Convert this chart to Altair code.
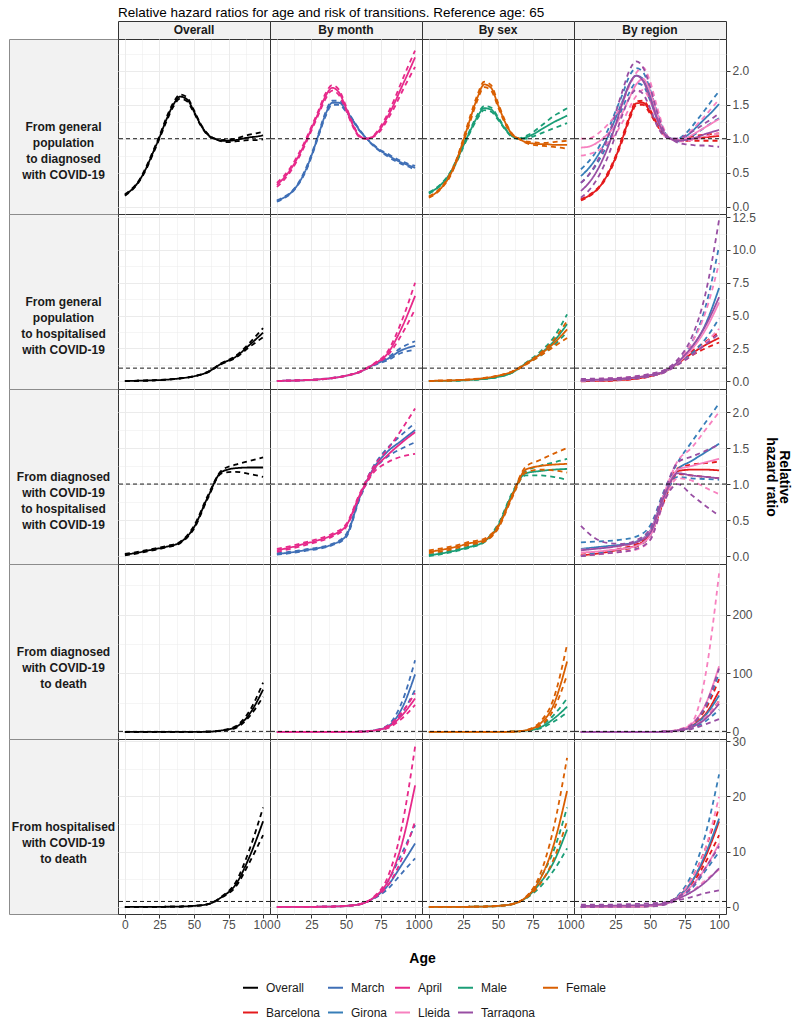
import json
import altair as alt
import pandas as pd

FONT = "Liberation Sans"

# ---------------- categories / labels ----------------
SERIES_NAMES = ["Overall", "March", "April", "Male", "Female",
                "Barcelona", "Girona", "Lleida", "Tarragona"]
SERIES_COLORS = ["#000000", "#3F6FB6", "#E7298A", "#1B9E77", "#D95F02",
                 "#E41A1C", "#377EB8", "#F781BF", "#984EA3"]
COLUMN_TITLES = ["Overall", "By month", "By sex", "By region"]
COLUMN_SERIES = [["Overall"], ["March", "April"], ["Male", "Female"],
                 ["Barcelona", "Girona", "Lleida", "Tarragona"]]
ROW_LABELS = [
    "From general\npopulation\nto diagnosed\nwith COVID-19",
    "From general\npopulation\nto hospitalised\nwith COVID-19",
    "From diagnosed\nwith COVID-19\nto hospitalised\nwith COVID-19",
    "From diagnosed\nwith COVID-19\nto death",
    "From hospitalised\nwith COVID-19\nto death",
]
TITLE = "Relative hazard ratios for age and risk of transitions. Reference age: 65"
X_TITLE = "Age"
Y_TITLE = ["Relative", "hazard ratio"]

# y tick labels per row
ROW_MAJOR = [[0, 0.5, 1, 1.5, 2], [0, 2.5, 5, 7.5, 10, 12.5], [0, 0.5, 1, 1.5, 2],
             [0, 100, 200], [0, 10, 20, 30]]
ROW_MINOR = [[0.25, 0.75, 1.25, 1.75, 2.25], [1.25, 3.75, 6.25, 8.75, 11.25],
             [0.25, 0.75, 1.25, 1.75, 2.25], [50, 150, 250], [5, 15, 25]]
ROW_FORMAT = [".1f", ".1f", ".1f", "d", "d"]
ROW_DOMAIN = [[-0.11, 2.47], [-0.59, 12.74], [-0.11, 2.32], [-12, 286], [-1.27, 30.4]]
X_MAJOR = [0, 25, 50, 75, 100]
X_MINOR = [12.5, 37.5, 62.5, 87.5]

# ---------------- data: ages ----------------
AGES_R1 = [0, 5, 10, 15, 20, 25, 30, 35, 40, 45, 50, 55, 60, 65, 70, 75, 80, 85, 90, 95, 100]
AGES = [0, 10, 20, 30, 40, 50, 60, 70, 80, 90, 100]

# ---------------- row 1: general population -> diagnosed ----------------
r1_Overall = [0.17, 0.25, 0.37, 0.55, 0.78, 1.02, 1.28, 1.50, 1.62, 1.58, 1.40, 1.20, 1.06, 1.00, 0.97, 0.97, 0.98, 1.00, 1.02, 1.03, 1.05]
r1_Overall_lo = [0.16, 0.24, 0.36, 0.53, 0.76, 1.00, 1.25, 1.47, 1.59, 1.55, 1.38, 1.19, 1.05, 1.00, 0.96, 0.95, 0.96, 0.97, 0.98, 0.98, 0.99]
r1_Overall_hi = [0.18, 0.26, 0.38, 0.57, 0.80, 1.04, 1.31, 1.53, 1.65, 1.61, 1.42, 1.21, 1.07, 1.00, 0.98, 0.99, 1.00, 1.03, 1.06, 1.08, 1.10]
r1_March = [0.08, 0.13, 0.20, 0.32, 0.50, 0.75, 1.05, 1.35, 1.53, 1.53, 1.42, 1.27, 1.12, 1.00, 0.90, 0.82, 0.76, 0.70, 0.65, 0.61, 0.57]
r1_March_lo = [0.07, 0.12, 0.19, 0.31, 0.48, 0.73, 1.03, 1.32, 1.50, 1.50, 1.40, 1.26, 1.11, 1.00, 0.89, 0.81, 0.74, 0.68, 0.63, 0.59, 0.54]
r1_March_hi = [0.09, 0.14, 0.21, 0.33, 0.52, 0.77, 1.07, 1.38, 1.56, 1.56, 1.44, 1.28, 1.13, 1.00, 0.91, 0.83, 0.78, 0.72, 0.67, 0.63, 0.60]
r1_April = [0.32, 0.42, 0.55, 0.72, 0.92, 1.15, 1.38, 1.62, 1.75, 1.68, 1.45, 1.20, 1.03, 1.00, 1.04, 1.15, 1.32, 1.52, 1.75, 1.97, 2.20]
r1_April_lo = [0.29, 0.39, 0.52, 0.69, 0.89, 1.12, 1.35, 1.58, 1.71, 1.64, 1.42, 1.18, 1.02, 1.00, 1.03, 1.12, 1.28, 1.46, 1.67, 1.87, 2.06]
r1_April_hi = [0.35, 0.45, 0.58, 0.75, 0.95, 1.18, 1.41, 1.66, 1.79, 1.72, 1.48, 1.22, 1.04, 1.00, 1.05, 1.18, 1.36, 1.58, 1.83, 2.07, 2.30]
r1_Male = [0.20, 0.26, 0.35, 0.48, 0.67, 0.90, 1.12, 1.32, 1.45, 1.43, 1.30, 1.15, 1.04, 1.00, 1.02, 1.06, 1.12, 1.18, 1.24, 1.29, 1.34]
r1_Male_lo = [0.19, 0.25, 0.34, 0.47, 0.65, 0.88, 1.10, 1.29, 1.42, 1.40, 1.28, 1.14, 1.03, 1.00, 1.00, 1.03, 1.07, 1.11, 1.15, 1.19, 1.23]
r1_Male_hi = [0.21, 0.27, 0.36, 0.49, 0.69, 0.92, 1.14, 1.35, 1.48, 1.46, 1.32, 1.16, 1.05, 1.00, 1.04, 1.09, 1.17, 1.25, 1.33, 1.39, 1.45]
r1_Female = [0.14, 0.20, 0.30, 0.45, 0.68, 0.98, 1.30, 1.60, 1.80, 1.75, 1.50, 1.25, 1.07, 1.00, 0.95, 0.93, 0.92, 0.92, 0.91, 0.91, 0.91]
r1_Female_lo = [0.13, 0.19, 0.29, 0.43, 0.66, 0.95, 1.26, 1.56, 1.76, 1.71, 1.47, 1.23, 1.06, 1.00, 0.94, 0.91, 0.90, 0.89, 0.88, 0.87, 0.85]
r1_Female_hi = [0.15, 0.21, 0.31, 0.47, 0.70, 1.01, 1.34, 1.64, 1.84, 1.79, 1.53, 1.27, 1.08, 1.00, 0.96, 0.95, 0.94, 0.94, 0.95, 0.96, 0.97]
r1_Barcelona = [0.10, 0.15, 0.22, 0.33, 0.50, 0.72, 1.00, 1.30, 1.52, 1.53, 1.40, 1.22, 1.07, 1.00, 0.98, 0.99, 1.00, 1.01, 1.02, 1.03, 1.04]
r1_Barcelona_lo = [0.09, 0.14, 0.21, 0.32, 0.48, 0.70, 0.97, 1.27, 1.49, 1.50, 1.37, 1.20, 1.06, 1.00, 0.97, 0.97, 0.97, 0.97, 0.97, 0.97, 0.97]
r1_Barcelona_hi = [0.11, 0.16, 0.23, 0.34, 0.52, 0.74, 1.03, 1.33, 1.55, 1.56, 1.43, 1.24, 1.08, 1.00, 0.99, 1.01, 1.03, 1.05, 1.06, 1.07, 1.08]
r1_Girona = [0.45, 0.55, 0.68, 0.85, 1.05, 1.30, 1.55, 1.80, 1.93, 1.88, 1.65, 1.35, 1.10, 1.00, 0.98, 1.02, 1.10, 1.20, 1.30, 1.40, 1.51]
r1_Girona_lo = [0.35, 0.45, 0.58, 0.75, 0.95, 1.20, 1.45, 1.68, 1.82, 1.78, 1.57, 1.30, 1.08, 1.00, 0.96, 0.98, 1.03, 1.10, 1.17, 1.24, 1.30]
r1_Girona_hi = [0.55, 0.65, 0.78, 0.95, 1.15, 1.40, 1.65, 1.92, 2.04, 1.98, 1.73, 1.40, 1.12, 1.00, 1.00, 1.06, 1.17, 1.30, 1.43, 1.57, 1.70]
r1_Lleida = [0.87, 0.88, 0.92, 0.99, 1.08, 1.20, 1.38, 1.60, 1.80, 1.88, 1.70, 1.38, 1.10, 1.00, 0.98, 1.00, 1.05, 1.11, 1.17, 1.23, 1.29]
r1_Lleida_lo = [0.75, 0.77, 0.80, 0.86, 0.95, 1.07, 1.24, 1.45, 1.63, 1.72, 1.56, 1.28, 1.05, 1.00, 0.96, 0.96, 0.98, 1.00, 1.03, 1.06, 1.08]
r1_Lleida_hi = [1.00, 1.00, 1.04, 1.12, 1.22, 1.35, 1.53, 1.77, 1.97, 2.05, 1.85, 1.48, 1.15, 1.00, 1.00, 1.04, 1.12, 1.23, 1.34, 1.46, 1.58]
r1_Tarragona = [0.23, 0.33, 0.47, 0.66, 0.90, 1.20, 1.52, 1.80, 1.93, 1.85, 1.60, 1.30, 1.08, 1.00, 0.97, 0.98, 1.00, 1.03, 1.07, 1.10, 1.13]
r1_Tarragona_lo = [0.13, 0.22, 0.35, 0.53, 0.76, 1.05, 1.35, 1.60, 1.72, 1.66, 1.45, 1.20, 1.04, 1.00, 0.94, 0.92, 0.91, 0.90, 0.90, 0.89, 0.88]
r1_Tarragona_hi = [0.35, 0.45, 0.60, 0.80, 1.05, 1.37, 1.70, 2.00, 2.14, 2.05, 1.77, 1.40, 1.12, 1.00, 1.00, 1.04, 1.10, 1.16, 1.23, 1.30, 1.37]

# ---------------- row 2: general population -> hospitalised ----------------
r2_Overall = [0.02, 0.04, 0.07, 0.12, 0.22, 0.38, 0.70, 1.35, 1.85, 2.75, 3.70]
r2_Overall_lo = [0.02, 0.04, 0.07, 0.12, 0.21, 0.37, 0.68, 1.31, 1.78, 2.60, 3.35]
r2_Overall_hi = [0.02, 0.04, 0.07, 0.13, 0.23, 0.39, 0.72, 1.39, 1.92, 2.90, 4.05]
r2_March = [0.03, 0.05, 0.08, 0.14, 0.24, 0.42, 0.72, 1.25, 1.70, 2.35, 2.70]
r2_March_lo = [0.03, 0.05, 0.08, 0.13, 0.23, 0.41, 0.70, 1.21, 1.60, 2.15, 2.40]
r2_March_hi = [0.03, 0.05, 0.08, 0.15, 0.25, 0.43, 0.74, 1.29, 1.80, 2.55, 3.05]
r2_April = [0.03, 0.05, 0.08, 0.14, 0.24, 0.42, 0.72, 1.30, 2.10, 4.00, 6.50]
r2_April_lo = [0.03, 0.05, 0.08, 0.13, 0.23, 0.41, 0.70, 1.26, 1.95, 3.50, 5.50]
r2_April_hi = [0.03, 0.05, 0.08, 0.15, 0.25, 0.43, 0.74, 1.34, 2.25, 4.50, 7.50]
r2_Male = [0.02, 0.03, 0.05, 0.10, 0.18, 0.33, 0.65, 1.35, 2.05, 3.00, 4.35]
r2_Male_lo = [0.02, 0.03, 0.05, 0.09, 0.17, 0.32, 0.63, 1.30, 1.90, 2.70, 3.75]
r2_Male_hi = [0.02, 0.03, 0.05, 0.11, 0.19, 0.34, 0.67, 1.40, 2.20, 3.30, 5.10]
r2_Female = [0.03, 0.05, 0.08, 0.14, 0.24, 0.42, 0.72, 1.30, 2.00, 2.85, 3.95]
r2_Female_lo = [0.03, 0.05, 0.08, 0.13, 0.23, 0.41, 0.70, 1.26, 1.90, 2.60, 3.30]
r2_Female_hi = [0.03, 0.05, 0.08, 0.15, 0.25, 0.43, 0.74, 1.34, 2.10, 3.10, 4.60]
r2_Barcelona = [0.01, 0.02, 0.05, 0.10, 0.20, 0.38, 0.70, 1.35, 2.10, 2.75, 3.30]
r2_Barcelona_lo = [0.00, 0.01, 0.04, 0.09, 0.18, 0.36, 0.68, 1.30, 1.95, 2.50, 2.95]
r2_Barcelona_hi = [0.02, 0.03, 0.06, 0.11, 0.22, 0.40, 0.72, 1.40, 2.25, 3.00, 3.75]
r2_Girona = [0.05, 0.08, 0.12, 0.18, 0.28, 0.45, 0.72, 1.40, 2.50, 4.30, 7.10]
r2_Girona_lo = [0.03, 0.05, 0.09, 0.14, 0.23, 0.40, 0.68, 1.30, 2.10, 3.20, 4.80]
r2_Girona_hi = [0.08, 0.11, 0.15, 0.22, 0.33, 0.50, 0.76, 1.50, 2.90, 5.60, 10.30]
r2_Lleida = [0.08, 0.10, 0.14, 0.20, 0.30, 0.47, 0.74, 1.40, 2.40, 3.90, 6.00]
r2_Lleida_lo = [0.03, 0.05, 0.08, 0.13, 0.22, 0.38, 0.66, 1.25, 1.95, 2.90, 4.00]
r2_Lleida_hi = [0.15, 0.18, 0.22, 0.28, 0.38, 0.55, 0.82, 1.55, 2.90, 5.20, 9.00]
r2_Tarragona = [0.10, 0.12, 0.15, 0.20, 0.30, 0.47, 0.74, 1.45, 2.60, 4.20, 6.40]
r2_Tarragona_lo = [0.05, 0.07, 0.10, 0.14, 0.22, 0.38, 0.66, 1.25, 1.95, 2.80, 3.60]
r2_Tarragona_hi = [0.18, 0.20, 0.23, 0.28, 0.38, 0.56, 0.84, 1.65, 3.30, 6.60, 12.30]

# ---------------- row 3: diagnosed -> hospitalised ----------------
r3_Overall = [0.02, 0.05, 0.09, 0.13, 0.19, 0.40, 0.82, 1.17, 1.22, 1.23, 1.23]
r3_Overall_lo = [0.01, 0.04, 0.08, 0.12, 0.18, 0.38, 0.80, 1.15, 1.17, 1.14, 1.10]
r3_Overall_hi = [0.03, 0.06, 0.10, 0.14, 0.20, 0.42, 0.84, 1.19, 1.27, 1.32, 1.37]
r3_March = [0.03, 0.05, 0.08, 0.11, 0.16, 0.28, 0.82, 1.22, 1.45, 1.60, 1.75]
r3_March_lo = [0.02, 0.04, 0.07, 0.10, 0.15, 0.26, 0.80, 1.19, 1.38, 1.49, 1.58]
r3_March_hi = [0.04, 0.06, 0.09, 0.12, 0.17, 0.30, 0.84, 1.25, 1.50, 1.68, 1.85]
r3_April = [0.08, 0.12, 0.17, 0.22, 0.29, 0.42, 0.85, 1.20, 1.40, 1.57, 1.72]
r3_April_lo = [0.06, 0.10, 0.15, 0.20, 0.27, 0.40, 0.83, 1.16, 1.30, 1.38, 1.42]
r3_April_hi = [0.10, 0.14, 0.19, 0.24, 0.31, 0.44, 0.87, 1.24, 1.48, 1.75, 2.05]
r3_Male = [0.01, 0.04, 0.08, 0.13, 0.20, 0.42, 0.85, 1.15, 1.18, 1.20, 1.21]
r3_Male_lo = [0.00, 0.03, 0.07, 0.12, 0.19, 0.40, 0.83, 1.12, 1.12, 1.10, 1.06]
r3_Male_hi = [0.02, 0.05, 0.09, 0.14, 0.21, 0.44, 0.87, 1.18, 1.25, 1.30, 1.35]
r3_Female = [0.06, 0.09, 0.13, 0.18, 0.22, 0.40, 0.82, 1.20, 1.25, 1.27, 1.28]
r3_Female_lo = [0.04, 0.07, 0.11, 0.16, 0.20, 0.38, 0.80, 1.16, 1.20, 1.19, 1.16]
r3_Female_hi = [0.08, 0.11, 0.15, 0.20, 0.24, 0.42, 0.84, 1.24, 1.33, 1.42, 1.50]
r3_Barcelona = [0.01, 0.03, 0.06, 0.10, 0.15, 0.30, 0.78, 1.18, 1.20, 1.20, 1.19]
r3_Barcelona_lo = [0.00, 0.02, 0.05, 0.09, 0.13, 0.28, 0.75, 1.14, 1.12, 1.10, 1.08]
r3_Barcelona_hi = [0.02, 0.04, 0.07, 0.11, 0.17, 0.32, 0.80, 1.22, 1.27, 1.29, 1.31]
r3_Girona = [0.10, 0.12, 0.14, 0.16, 0.20, 0.35, 0.85, 1.20, 1.32, 1.44, 1.56]
r3_Girona_lo = [0.00, 0.04, 0.07, 0.10, 0.14, 0.28, 0.80, 1.10, 1.08, 1.07, 1.06]
r3_Girona_hi = [0.19, 0.20, 0.21, 0.23, 0.27, 0.42, 0.90, 1.30, 1.58, 1.85, 2.12]
r3_Lleida = [0.05, 0.06, 0.08, 0.10, 0.14, 0.28, 0.80, 1.20, 1.25, 1.30, 1.35]
r3_Lleida_lo = [0.01, 0.02, 0.04, 0.06, 0.09, 0.22, 0.74, 1.08, 1.05, 0.95, 0.86]
r3_Lleida_hi = [0.09, 0.10, 0.12, 0.14, 0.19, 0.34, 0.86, 1.32, 1.50, 1.75, 2.00]
r3_Tarragona = [0.08, 0.10, 0.12, 0.15, 0.19, 0.32, 0.82, 1.15, 1.12, 1.10, 1.08]
r3_Tarragona_lo = [0.00, 0.02, 0.04, 0.06, 0.10, 0.22, 0.75, 1.00, 0.85, 0.70, 0.56]
r3_Tarragona_hi = [0.42, 0.25, 0.18, 0.17, 0.22, 0.38, 0.88, 1.30, 1.38, 1.46, 1.55]

# ---------------- row 4: diagnosed -> death ----------------
r4_Overall = [0.0, 0.0, 0.0, 0.01, 0.03, 0.10, 0.40, 2.5, 8.0, 30.0, 72.0]
r4_Overall_lo = [0.0, 0.0, 0.0, 0.01, 0.03, 0.09, 0.38, 2.3, 6.5, 26.0, 60.0]
r4_Overall_hi = [0.0, 0.0, 0.0, 0.01, 0.03, 0.11, 0.42, 2.7, 9.5, 35.0, 84.0]
r4_March = [0.0, 0.0, 0.0, 0.01, 0.03, 0.10, 0.40, 2.5, 9.0, 38.0, 98.0]
r4_March_lo = [0.0, 0.0, 0.0, 0.01, 0.03, 0.09, 0.38, 2.3, 7.0, 30.0, 72.0]
r4_March_hi = [0.0, 0.0, 0.0, 0.01, 0.03, 0.11, 0.42, 2.7, 11.0, 48.0, 122.0]
r4_April = [0.0, 0.0, 0.0, 0.01, 0.03, 0.10, 0.40, 2.3, 8.0, 27.0, 57.0]
r4_April_lo = [0.0, 0.0, 0.0, 0.01, 0.03, 0.09, 0.38, 2.1, 6.5, 22.0, 46.0]
r4_April_hi = [0.0, 0.0, 0.0, 0.01, 0.03, 0.11, 0.42, 2.5, 10.0, 32.0, 66.0]
r4_Male = [0.0, 0.0, 0.0, 0.01, 0.03, 0.10, 0.40, 2.2, 7.0, 22.0, 43.0]
r4_Male_lo = [0.0, 0.0, 0.0, 0.01, 0.03, 0.09, 0.38, 2.0, 5.5, 17.0, 33.0]
r4_Male_hi = [0.0, 0.0, 0.0, 0.01, 0.03, 0.11, 0.42, 2.4, 9.0, 28.0, 57.0]
r4_Female = [0.0, 0.0, 0.0, 0.01, 0.03, 0.10, 0.40, 2.8, 13.0, 45.0, 120.0]
r4_Female_lo = [0.0, 0.0, 0.0, 0.01, 0.03, 0.09, 0.38, 2.5, 10.0, 37.0, 97.0]
r4_Female_hi = [0.0, 0.0, 0.0, 0.01, 0.03, 0.11, 0.42, 3.1, 16.0, 55.0, 149.0]
r4_Barcelona = [0.0, 0.0, 0.0, 0.01, 0.03, 0.10, 0.40, 2.5, 10.0, 30.0, 70.0]
r4_Barcelona_lo = [0.0, 0.0, 0.0, 0.01, 0.03, 0.09, 0.38, 2.3, 8.0, 24.0, 53.0]
r4_Barcelona_hi = [0.0, 0.0, 0.0, 0.01, 0.03, 0.11, 0.42, 2.7, 12.0, 38.0, 90.0]
r4_Girona = [0.0, 0.0, 0.0, 0.01, 0.03, 0.10, 0.40, 2.5, 9.0, 28.0, 62.0]
r4_Girona_lo = [0.0, 0.0, 0.0, 0.01, 0.03, 0.09, 0.38, 2.2, 6.0, 18.0, 38.0]
r4_Girona_hi = [0.0, 0.0, 0.0, 0.01, 0.03, 0.11, 0.42, 2.8, 13.0, 42.0, 100.0]
r4_Lleida = [0.0, 0.0, 0.0, 0.01, 0.03, 0.10, 0.40, 3.0, 13.0, 46.0, 112.0]
r4_Lleida_lo = [0.0, 0.0, 0.0, 0.01, 0.03, 0.09, 0.38, 2.4, 8.0, 25.0, 52.0]
r4_Lleida_hi = [0.0, 0.0, 0.0, 0.01, 0.03, 0.11, 0.42, 3.8, 15.0, 95.0, 270.0]
r4_Tarragona = [0.0, 0.0, 0.0, 0.01, 0.03, 0.10, 0.40, 2.5, 8.0, 22.0, 48.0]
r4_Tarragona_lo = [0.0, 0.0, 0.0, 0.01, 0.03, 0.09, 0.38, 2.0, 5.0, 13.0, 22.0]
r4_Tarragona_hi = [0.0, 0.0, 0.0, 0.01, 0.03, 0.11, 0.42, 3.0, 12.0, 45.0, 108.0]

# ---------------- row 5: hospitalised -> death ----------------
r5_Overall = [0.0, 0.01, 0.02, 0.04, 0.08, 0.20, 0.50, 1.8, 4.0, 9.0, 15.5]
r5_Overall_lo = [0.0, 0.01, 0.02, 0.04, 0.08, 0.19, 0.48, 1.7, 3.6, 8.0, 13.0]
r5_Overall_hi = [0.0, 0.01, 0.02, 0.04, 0.08, 0.21, 0.52, 1.9, 4.4, 10.3, 18.0]
r5_March = [0.0, 0.01, 0.02, 0.04, 0.08, 0.20, 0.50, 1.6, 3.8, 7.5, 11.5]
r5_March_lo = [0.0, 0.01, 0.02, 0.04, 0.08, 0.19, 0.48, 1.5, 3.2, 6.0, 8.8]
r5_March_hi = [0.0, 0.01, 0.02, 0.04, 0.08, 0.21, 0.52, 1.7, 4.5, 9.5, 14.8]
r5_April = [0.0, 0.01, 0.02, 0.04, 0.08, 0.20, 0.50, 1.7, 4.5, 11.0, 22.0]
r5_April_lo = [0.0, 0.01, 0.02, 0.04, 0.08, 0.19, 0.48, 1.6, 3.8, 8.5, 15.5]
r5_April_hi = [0.0, 0.01, 0.02, 0.04, 0.08, 0.21, 0.52, 1.8, 5.3, 14.0, 29.0]
r5_Male = [0.0, 0.01, 0.02, 0.04, 0.08, 0.20, 0.50, 1.6, 4.2, 8.0, 14.0]
r5_Male_lo = [0.0, 0.01, 0.02, 0.04, 0.08, 0.19, 0.48, 1.5, 3.5, 6.5, 10.6]
r5_Male_hi = [0.0, 0.01, 0.02, 0.04, 0.08, 0.21, 0.52, 1.7, 5.0, 10.0, 18.0]
r5_Female = [0.0, 0.01, 0.02, 0.04, 0.08, 0.20, 0.50, 1.7, 4.8, 11.0, 21.0]
r5_Female_lo = [0.0, 0.01, 0.02, 0.04, 0.08, 0.19, 0.48, 1.6, 4.0, 8.5, 15.5]
r5_Female_hi = [0.0, 0.01, 0.02, 0.04, 0.08, 0.21, 0.52, 1.8, 5.6, 14.0, 27.0]
r5_Barcelona = [0.0, 0.01, 0.02, 0.04, 0.08, 0.20, 0.50, 1.8, 4.5, 9.0, 15.5]
r5_Barcelona_lo = [0.0, 0.01, 0.02, 0.04, 0.08, 0.19, 0.48, 1.7, 4.0, 8.0, 13.0]
r5_Barcelona_hi = [0.0, 0.01, 0.02, 0.04, 0.08, 0.21, 0.52, 1.9, 5.0, 10.5, 18.0]
r5_Girona = [0.0, 0.01, 0.02, 0.04, 0.08, 0.20, 0.50, 1.8, 4.5, 9.5, 16.0]
r5_Girona_lo = [0.0, 0.01, 0.02, 0.04, 0.08, 0.18, 0.46, 1.6, 3.3, 6.5, 10.0]
r5_Girona_hi = [0.0, 0.01, 0.02, 0.04, 0.08, 0.22, 0.54, 2.0, 5.8, 13.0, 24.0]
r5_Lleida = [0.0, 0.01, 0.02, 0.04, 0.08, 0.20, 0.50, 1.6, 3.8, 7.0, 11.5]
r5_Lleida_lo = [0.0, 0.01, 0.02, 0.04, 0.07, 0.17, 0.45, 1.4, 2.8, 4.8, 6.8]
r5_Lleida_hi = [0.0, 0.01, 0.02, 0.04, 0.09, 0.23, 0.55, 1.8, 5.0, 10.5, 20.0]
r5_Tarragona = [0.20, 0.20, 0.22, 0.25, 0.30, 0.38, 0.60, 1.5, 2.7, 4.5, 7.0]
r5_Tarragona_lo = [0.0, 0.0, 0.01, 0.02, 0.05, 0.10, 0.40, 1.2, 1.8, 2.5, 3.0]
r5_Tarragona_hi = [0.40, 0.40, 0.43, 0.48, 0.55, 0.66, 0.80, 1.8, 3.5, 7.0, 11.0]

# ---------------- layout constants ----------------
STRIP_W = 109
PANEL_W = 152
PANEL_H = 175
HEADER_H = 18
GRID = "#EBEBEB"
BORDER = "#333333"
STRIP_FILL = "#F2F2F2"
TICK_LABEL = "#4D4D4D"


def is_major(values):
    return f"indexof({json.dumps(values)}, datum.value) >= 0"


COLOR = alt.Color(
    "series:N",
    scale=alt.Scale(domain=SERIES_NAMES, range=SERIES_COLORS),
    legend=alt.Legend(
        orient="none", legendX=233, legendY=958, direction="horizontal",
        columns=5, title=None, symbolType="stroke", symbolSize=225,
        symbolStrokeWidth=2, labelFont=FONT, labelFontSize=12,
        labelColor="#1A1A1A", columnPadding=3, rowPadding=10, labelOffset=7,
    ),
)
DASH = alt.StrokeDash(
    "kind:N",
    scale=alt.Scale(domain=["est", "lo", "hi"], range=[[1, 0], [5, 4], [5, 4]]),
    legend=None,
)


def panel(r, c):
    ages = AGES_R1 if r == 0 else AGES
    recs = []
    for s in COLUMN_SERIES[c]:
        key = f"r{r + 1}_{s}"
        for kind, suffix in (("lo", "_lo"), ("hi", "_hi"), ("est", "")):
            for a, v in zip(ages, globals()[key + suffix]):
                recs.append({"age": a, "hr": v, "series": s, "kind": kind})
    df = pd.DataFrame(recs)

    ytest = is_major(ROW_MAJOR[r])
    xtest = is_major(X_MAJOR)
    yvals = sorted(ROW_MAJOR[r] + ROW_MINOR[r])
    xvals = sorted(X_MAJOR + X_MINOR)
    grid_w_y = {"condition": {"test": ytest, "value": 1.0}, "value": 0.5}
    grid_w_x = {"condition": {"test": xtest, "value": 1.0}, "value": 0.5}

    if c == 3:
        yaxis_kw = dict(
            orient="right", values=yvals, format=ROW_FORMAT[r],
            labelExpr=f"{ytest} ? datum.label : ''",
            labelColor=TICK_LABEL, labelFont=FONT, labelFontSize=12,
            labelPadding=2, labelOverlap=False, labelFlush=False,
            tickColor=BORDER, tickSize=4,
            tickOpacity={"condition": {"test": ytest, "value": 1}, "value": 0},
            domain=False, grid=True, gridColor=GRID, gridWidth=grid_w_y,
        )
        if r == 2:
            yaxis_kw.update(title=Y_TITLE, titleFont=FONT,
                            titleFontSize=14, titleFontWeight="bold",
                            titleColor="black", titlePadding=15,
                            titleLineHeight=13)
        else:
            yaxis_kw.update(title=None)
        yaxis = alt.Axis(**yaxis_kw)
    else:
        yaxis = alt.Axis(values=yvals, labels=False, ticks=False, domain=False,
                         grid=True, gridColor=GRID, gridWidth=grid_w_y, title=None)

    if r == 4:
        xaxis_kw = dict(values=xvals, labelExpr=f"{xtest} ? datum.label : ''",
                        labelColor=TICK_LABEL, labelFont=FONT, labelFontSize=12,
                        labelPadding=1, labelOverlap=False, labelFlush=False,
                        tickColor=BORDER, tickSize=4,
                        tickOpacity={"condition": {"test": xtest, "value": 1}, "value": 0},
                        domain=False, grid=True, gridColor=GRID, gridWidth=grid_w_x)
        if c == 1:
            xaxis_kw.update(title=X_TITLE, titleX=PANEL_W, titleY=44,
                            titleAlign="center", titleBaseline="middle",
                            titleFont=FONT, titleFontSize=14,
                            titleFontWeight="bold", titleColor="black")
        else:
            xaxis_kw.update(title=None)
        xaxis = alt.Axis(**xaxis_kw)
    else:
        xaxis = alt.Axis(values=xvals, labels=False, ticks=False, domain=False,
                         grid=True, gridColor=GRID, gridWidth=grid_w_x, title=None)

    yscale = alt.Scale(domain=ROW_DOMAIN[r], nice=False, zero=False)
    xscale = alt.Scale(domain=[-5, 105], nice=False, zero=False)

    lines = alt.Chart(df).mark_line(strokeWidth=1.8, interpolate="monotone", clip=True).encode(
        x=alt.X("age:Q", scale=xscale, axis=xaxis),
        y=alt.Y("hr:Q", scale=yscale, axis=yaxis),
        color=COLOR,
        strokeDash=DASH,
    )
    ref = alt.Chart(pd.DataFrame({"hr": [1.0]})).mark_rule(
        color="black", strokeDash=[4, 3], strokeWidth=0.9
    ).encode(y=alt.Y("hr:Q", scale=yscale, axis=yaxis))

    return alt.layer(lines, ref).properties(
        width=PANEL_W, height=PANEL_H,
        view=alt.ViewBackground(fill="white", stroke=BORDER, strokeWidth=1),
    )


def row_strip(label):
    return alt.Chart(pd.DataFrame({"t": [label]})).mark_text(
        font=FONT, fontSize=12, fontWeight="bold", lineBreak="\n", lineHeight=16,
        align="center", baseline="middle", color="#1A1A1A",
    ).encode(text="t:N", x=alt.value(STRIP_W / 2), y=alt.value(PANEL_H / 2)).properties(
        width=STRIP_W, height=PANEL_H,
        view=alt.ViewBackground(fill=STRIP_FILL, stroke="#8C8C8C", strokeWidth=1),
    )


def header(title):
    return alt.Chart(pd.DataFrame({"t": [title]})).mark_text(
        font=FONT, fontSize=12, fontWeight="bold", align="center",
        baseline="middle", color="#1A1A1A",
    ).encode(text="t:N", x=alt.value(PANEL_W / 2), y=alt.value(HEADER_H / 2)).properties(
        width=PANEL_W, height=HEADER_H,
        view=alt.ViewBackground(fill=STRIP_FILL, stroke=BORDER, strokeWidth=1),
    )


# top-left corner cell also carries the chart title, drawn above the headers
corner = alt.Chart(pd.DataFrame({"t": [TITLE]})).mark_text(
    font=FONT, fontSize=13.5, align="left", baseline="middle", color="black",
).encode(
    text="t:N", x=alt.value(STRIP_W), y=alt.value(-8)
).properties(width=STRIP_W, height=HEADER_H,
             view=alt.ViewBackground(stroke="transparent"))

cells = [corner] + [header(t) for t in COLUMN_TITLES]
for r in range(5):
    cells.append(row_strip(ROW_LABELS[r]))
    cells.extend(panel(r, c) for c in range(4))

chart = alt.concat(*cells, columns=5, spacing=0, bounds="flush", align="each").properties(
    padding={"left": 0, "top": -3, "right": 0, "bottom": 0},
).configure(font=FONT)

chart.save("out.html", embed_options={"renderer": "svg", "actions": False})
